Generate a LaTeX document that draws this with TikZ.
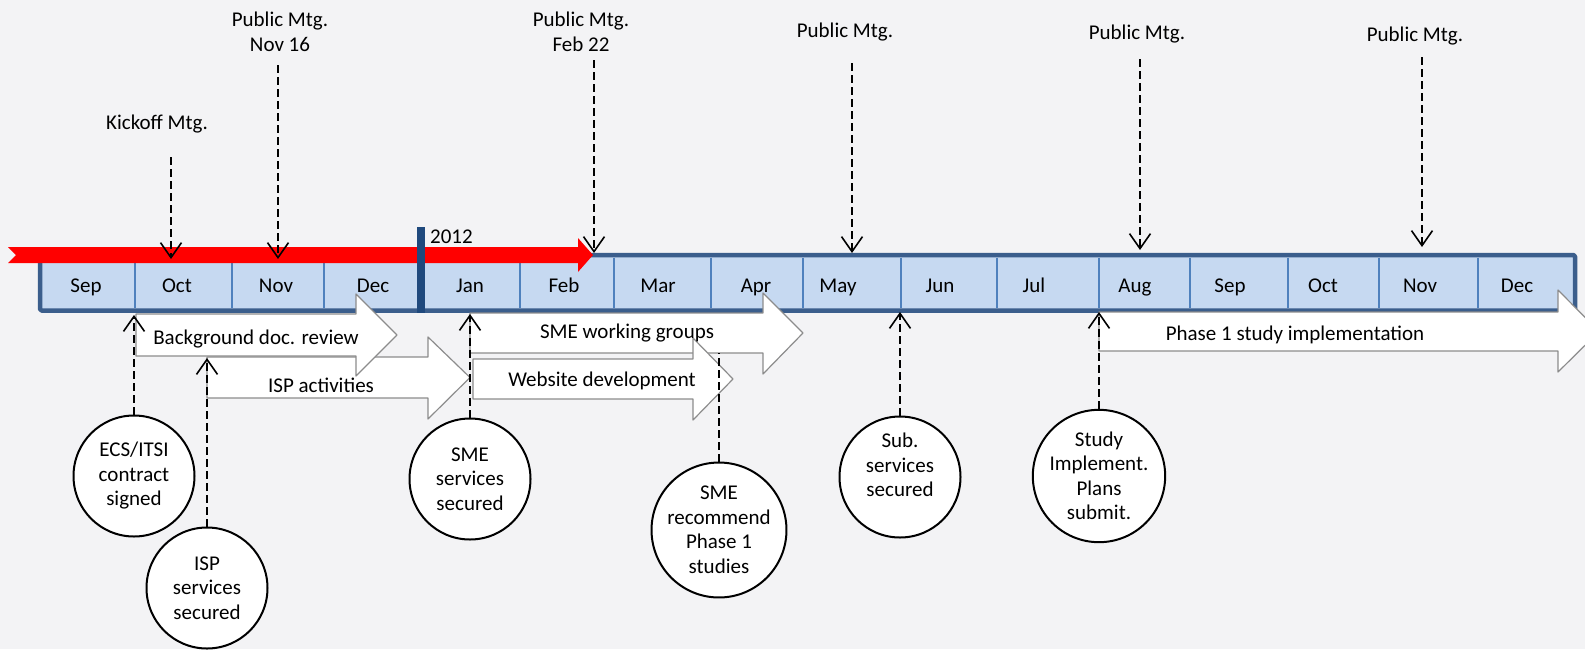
\documentclass[tikz,border=0pt]{standalone}
\usepackage{fontspec}
\setmainfont{Carlito}
\usetikzlibrary{arrows.meta}
\definecolor{pagebg}{HTML}{F3F3F5}
\definecolor{cellfill}{HTML}{C6D9F1}
\definecolor{barline}{HTML}{3B5E8C}
\definecolor{cellline}{HTML}{4F81BD}
\definecolor{yearbar}{HTML}{1F497D}
\definecolor{arrline}{HTML}{8C8C8C}
\tikzset{
  mtgline/.style={line width=1.8pt, dash pattern=on 8pt off 4pt, -{Straight Barb[length=15pt,width=21pt,line width=1.6pt]}},
  recline/.style={line width=1.8pt, dash pattern=on 8pt off 4pt},
  milestone/.style={circle, draw, line width=2pt, fill=white, minimum size=121pt, inner sep=0pt, align=center},
  blockarr/.style={draw=arrline, fill=white, line width=1.2pt},
}
\begin{document}
\begin{tikzpicture}[x=1pt,y=-1pt,font=\fontsize{21}{24.5}\selectfont,line join=round]
	\useasboundingbox (0,0) rectangle (1585,649);
	\fill[pagebg] (0,0) rectangle (1585,649);
	% month bar
	\draw[barline,line width=4.5pt,fill=cellfill,rounded corners=1.5pt] (40,255) rectangle (1575,310.5);
	\foreach \x in {135,232,324,520,614,711,803,901,997,1099,1190,1288,1379,1478}
		\draw[cellline,line width=2pt] (\x,257.5) -- (\x,308);
	\foreach \m/\x [count=\i] in {Sep/86,Oct/177,Nov/276,Dec/373,Jan/470,Feb/564,Mar/658,Apr/756,May/838,Jun/940,Jul/1034,Aug/1135,Sep/1230,Oct/1323,Nov/1420,Dec/1517}
		\node[anchor=base] (mon\i) at (\x,292) {\m};
	% progress so far
	\fill[red] (8,247) -- (578,247) -- (578,238) -- (593,255) -- (578,272) -- (578,263) -- (8,263) -- (16,255) -- cycle;
	\fill[yearbar] (417,227) rectangle (425,313);
	\node[anchor=base west,inner sep=0pt] (yr) at (430,243) {2012};
	% meetings
	\node[anchor=base] (kick) at (157,129) {Kickoff Mtg.};
	\node[align=center] (pm1) at (280,32) {Public Mtg.\\Nov 16};
	\node[align=center] (pm2) at (581,32) {Public Mtg.\\Feb 22};
	\node[anchor=base] (pm3) at (845,37) {Public Mtg.};
	\node[anchor=base] (pm4) at (1137,39) {Public Mtg.};
	\node[anchor=base] (pm5) at (1415,41) {Public Mtg.};
	\foreach \n/\x/\ya/\yb in {kick/171/157/259, pm1/278/65/259, pm2/594/60/253, pm3/852/63/253, pm4/1140/59/250, pm5/1422/57/247}{
		\coordinate (\n-top) at (\x,\ya);
		\coordinate (\n-tip) at (\x,\yb);
		\draw[mtgline] (\n-top) -- (\n-tip);
	}
	% activities
	\foreach \xa/\xb/\xt/\yt/\yb/\ht/\hb in {207/428/470/357/398/337/419, 136/356/397/314/356/294/376, 470/763/803/313/353/293/374, 473/693/733/359/399/338/420, 1099/1558/1599/312/351/290/372}
		\filldraw[blockarr] (\xa,\yt) -- (\xb,\yt) -- (\xb,\ht) -- (\xt,{(\yt+\yb)/2}) -- (\xb,\hb) -- (\xb,\yb) -- (\xa,\yb) -- cycle;
	\node[anchor=base] (bgr) at (256,344) {Background doc. review};
	\node[anchor=base] (isp) at (321,392) {ISP activities};
	\node[anchor=base] (smewg) at (627,338) {SME working groups};
	\node[anchor=base] (web) at (602,386) {Website development};
	\node[anchor=base] (ph1) at (1295,340) {Phase 1 study implementation};
	% milestones
	\node[milestone] (ecs) at (134,476) {ECS/ITSI\\contract\\signed};
	\node[milestone] (ispm) at (207,588) {ISP\\services\\secured};
	\node[milestone] (smes) at (470,479) {SME\\services\\secured};
	\node[milestone] (smer) at (719,530) {SME\\recommend\\Phase 1\\studies};
	\node[milestone] (subs) at (900,477) {Sub.\\services\\secured\\\mbox{}};
	\node[milestone] (plan) at (1099,476) {Study\\Implement.\\Plans\\submit.};
	\foreach \n/\x/\y in {ecs/134/315, ispm/207/358, smes/470/314, subs/900/312, plan/1099/312}{
		\coordinate (\n-tip) at (\x,\y);
		\draw[mtgline] (\n.north) -- (\n-tip);
	}
	\coordinate (smer-tip) at (719,353);
	\draw[recline] (smer.north) -- (smer-tip);
\end{tikzpicture}
\end{document}
